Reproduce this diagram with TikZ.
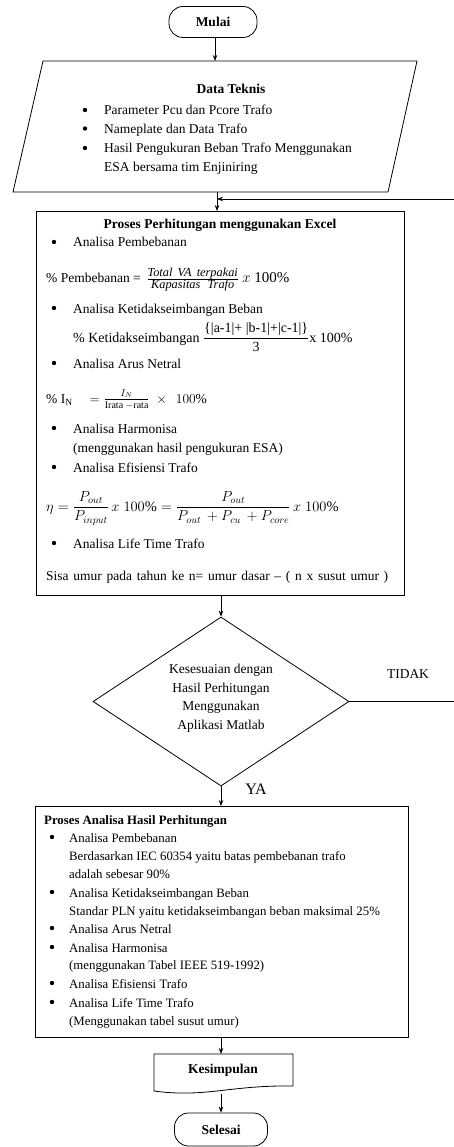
\RequirePackage{fix-cm}
\documentclass[tikz,border=0pt]{standalone}
\usepackage{fontspec}
\setmainfont{Liberation Serif}
\usetikzlibrary{arrows.meta,shapes.geometric}
\tikzset{
 base/.style={font=\fontsize{13.5}{18.5}\selectfont},
 small/.style={font=\fontsize{12.8}{18}\selectfont},
 txt/.style={base, anchor=base west, inner sep=0pt},
 stxt/.style={small, anchor=base west, inner sep=0pt},
 ctxt/.style={base, anchor=base, inner sep=0pt},
 ln/.style={line width=0.8pt},
 conn/.style={line width=0.8pt, -{Stealth[length=6pt,width=4.5pt]}},
 bul/.style={circle, fill, inner sep=0pt, minimum size=4.4pt},
 term/.style={draw, ln, rounded corners=14pt, inner sep=0pt, font=\fontsize{13.5}{16}\selectfont\bfseries},
 boxn/.style={draw, ln, inner sep=0pt, anchor=north west},
}
\begin{document}
\begin{tikzpicture}[x=1pt,y=-1pt]
\useasboundingbox (0,0) rectangle (453,1147);

% Start
\node[term, minimum width=88pt, minimum height=31pt] (mulai) at (213,22) {Mulai};

% Data input (parallelogram)
\draw[ln] (43,61) -- (417,61) -- (388,192) -- (13,192) -- cycle;
\coordinate (dtop) at (215,61);
\coordinate (dbot) at (217,192);
\node[ctxt, font=\fontsize{13.5}{16}\selectfont\bfseries] (dt) at (231,94) {Data Teknis};
\node[bul] (b1) at (85,110) {};
\node[txt] (t1) at (104,115) {Parameter Pcu dan Pcore Trafo};
\node[bul] (b2) at (85,128.5) {};
\node[txt] (t2) at (104,133.5) {Nameplate dan Data Trafo};
\node[bul] (b3) at (85,148) {};
\node[txt] (t3) at (104,153) {Hasil Pengukuran Beban Trafo Menggunakan};
\node[txt] (t4) at (104,171.5) {ESA bersama tim Enjiniring};

\draw[conn] (mulai.south -| dtop) -- (dtop);

% Process box
\node[boxn, minimum width=368pt, minimum height=384pt] (proc) at (36,211) {};
\coordinate (join) at (217,199);
\draw[conn] (dbot) -- (dbot |- proc.north);

\node[ctxt, font=\fontsize{13.5}{16}\selectfont\bfseries] (pt) at (220,229) {Proses Perhitungan menggunakan Excel};
\node[bul] (pb1) at (54,242) {};
\node[txt] (p1) at (73,247) {Analisa Pembebanan};
\node[txt] (f1) at (46,283) {\% Pembebanan = \,$\frac{\mbox{\fontsize{12.3}{13}\selectfont\itshape Total\, VA\, terpakai}}{\mbox{\fontsize{12.3}{13}\selectfont\itshape Kapasitas\,\, Trafo}}$ \fontsize{15}{16}\selectfont$x$ 100\%};
\node[bul] (pb2) at (54,308) {};
\node[txt] (p2) at (73,313) {Analisa Ketidakseimbangan Beban};
\node[txt, font=\fontsize{14}{18}\selectfont] (f2) at (73,342) {\% Ketidakseimbangan $\displaystyle\frac{\mbox{\{|a-1|+ |b-1|+|c-1|\}}}{\mbox{3}}$x 100\%};
\node[bul] (pb3) at (54,363) {};
\node[txt] (p3) at (73,368) {Analisa Arus Netral};
\node[txt] (f3) at (46,403) {\% I$_{\mathrm{N}}$\hspace{17pt}$=\frac{\raisebox{1.5pt}{\mbox{\fontsize{10}{11}\selectfont$I_N$}}}{\raisebox{-1pt}{\mbox{\fontsize{10}{11}\selectfont Irata $-$rata}}}\;\times\;\,100\%$};
\node[bul] (pb4) at (54,428) {};
\node[txt] (p4) at (73,433) {Analisa Harmonisa};
\node[txt] (p4b) at (73,452) {(menggunakan hasil pengukuran ESA)};
\node[bul] (pb5) at (54,467) {};
\node[txt] (p5) at (73,472) {Analisa Efisiensi Trafo};
\node[txt, font=\fontsize{14.5}{18}\selectfont] (f4) at (46,511) {$\eta = \displaystyle\frac{P_{out}}{P_{input}}\,x\;100\% = \frac{P_{out}}{P_{out}\,+P_{cu}\,+P_{core}}\,x\;100\%$};
\node[bul] (pb6) at (54,543) {};
\node[txt] (p6) at (73,548) {Analisa Life Time Trafo};
\node[txt] (p7) at (46,580) {\makebox[342pt][s]{Sisa umur pada tahun ke n= umur dasar -- ( n x susut umur )}};

% Decision
\node[draw, ln, diamond, minimum width=256pt, minimum height=169pt, inner sep=0pt] (dec) at (221,701.5) {};
\draw[conn] (proc.south -| dec.north) -- (dec.north);
\node[base, align=center, inner sep=0pt] (dtxt) at (221,698) {Kesesuaian dengan\\Hasil Perhitungan\\Menggunakan\\Aplikasi Matlab};
\node[ctxt] (tidak) at (408,678) {TIDAK};
\node[ctxt, font=\fontsize{16}{18}\selectfont] (ya) at (256,794) {YA};

% loop back
\coordinate (r1) at (457,701.5);
\coordinate (r2) at (457,199);
\draw[ln] (dec.east) -- (r1) -- (r2);
\draw[conn] (r2) -- (join);

% Analysis box
\node[boxn, minimum width=373pt, minimum height=231pt] (ana) at (35,806) {};
\draw[conn] (dec.south) -- (dec.south |- ana.north);
\node[stxt, font=\fontsize{12.8}{16}\selectfont\bfseries] (at) at (44,824) {Proses Analisa Hasil Perhitungan};
\node[bul] (ab1) at (52,837) {};
\node[stxt] (a1) at (69,842) {Analisa Pembebanan};
\node[stxt] (a2) at (69,860) {Berdasarkan IEC 60354 yaitu batas pembebanan trafo};
\node[stxt] (a3) at (69,878) {adalah sebesar 90\%};
\node[bul] (ab2) at (52,892) {};
\node[stxt] (a4) at (69,897) {Analisa Ketidakseimbangan Beban};
\node[stxt] (a5) at (69,915) {Standar PLN yaitu ketidakseimbangan beban maksimal 25\%};
\node[bul] (ab3) at (52,928) {};
\node[stxt] (a6) at (69,933) {Analisa Arus Netral};
\node[bul] (ab4) at (52,947) {};
\node[stxt] (a7) at (69,952) {Analisa Harmonisa};
\node[stxt] (a8) at (69,969) {(menggunakan Tabel IEEE 519-1992)};
\node[bul] (ab5) at (52,983) {};
\node[stxt] (a9) at (69,988) {Analisa Efisiensi Trafo};
\node[bul] (ab6) at (52,1002) {};
\node[stxt] (a10) at (69,1007) {Analisa Life Time Trafo};
\node[stxt] (a11) at (69,1025) {(Menggunakan tabel susut umur)};

% Kesimpulan (document shape)
\draw[ln] (154,1054) -- (293,1054) -- (293,1086)
  .. controls (230,1085) and (205,1098) .. (154,1091) -- cycle;
\coordinate (kestop) at (221,1054);
\coordinate (kesbot) at (221,1094);
\node[ctxt, font=\fontsize{13.5}{16}\selectfont\bfseries] (kes) at (223,1073) {Kesimpulan};
\draw[conn] (ana.south -| kestop) -- (kestop);

% End
\node[term, minimum width=93pt, minimum height=33pt] (selesai) at (221,1129.5) {Selesai};
\draw[conn] (kesbot) -- (selesai.north);
\end{tikzpicture}
\end{document}
